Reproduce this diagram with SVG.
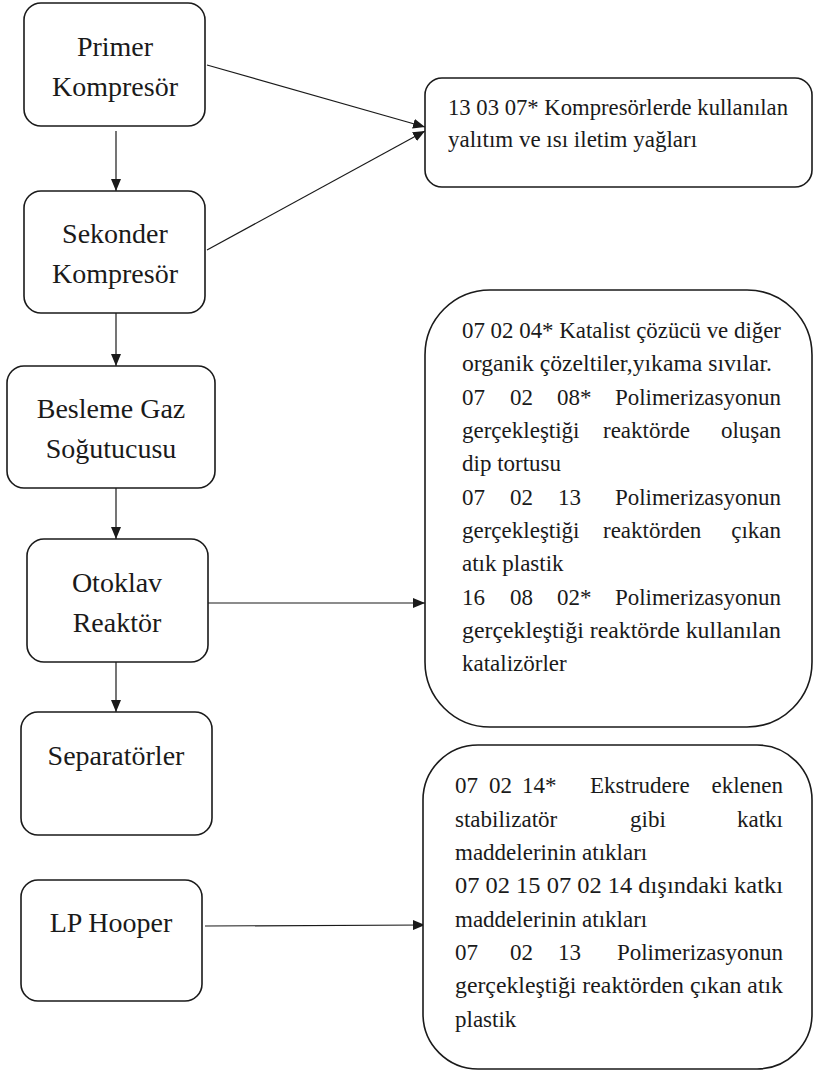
<svg xmlns="http://www.w3.org/2000/svg" width="814" height="1071" viewBox="0 0 814 1071">
  <style>
    .box { fill: #ffffff; stroke: #1a1a1a; stroke-width: 1.6; }
    .conn { stroke: #1a1a1a; stroke-width: 1.2; fill: none; marker-end: url(#arrow); }
    .lbl { font-family: "Liberation Serif", "Times New Roman", serif; font-size: 28px; fill: #1a1a1a; text-anchor: middle; }
    .note { font-family: "Liberation Serif", "Times New Roman", serif; font-size: 23px; fill: #1a1a1a; }
    .end { text-anchor: end; }
  </style>
  <defs>
    <marker id="arrow" markerUnits="userSpaceOnUse" markerWidth="12" markerHeight="10" refX="12" refY="5" orient="auto">
      <path d="M0,0 L12,5 L0,10 Z" fill="#1a1a1a"/>
    </marker>
  </defs>
  <rect width="814" height="1071" fill="#ffffff"/>

  <!-- connectors -->
  <g id="connectors">
    <line class="conn" x1="116" y1="131" x2="116" y2="191"/>
    <line class="conn" x1="116" y1="313" x2="116" y2="366"/>
    <line class="conn" x1="116" y1="488" x2="116" y2="539"/>
    <line class="conn" x1="116" y1="662" x2="116" y2="712"/>
    <line class="conn" x1="207" y1="65" x2="425" y2="127"/>
    <line class="conn" x1="207" y1="250" x2="425" y2="131"/>
    <line class="conn" x1="208" y1="603" x2="425" y2="603"/>
    <line class="conn" x1="205" y1="926" x2="425" y2="925"/>
  </g>

  <!-- process steps -->
  <g id="primer">
    <rect class="box" x="24" y="3" width="181" height="123" rx="17"/>
    <text class="lbl" x="115" y="56">Primer</text>
    <text class="lbl" x="115" y="96">Kompresör</text>
  </g>
  <g id="sekonder">
    <rect class="box" x="24" y="191" width="181" height="122" rx="17"/>
    <text class="lbl" x="115" y="243">Sekonder</text>
    <text class="lbl" x="115" y="283">Kompresör</text>
  </g>
  <g id="besleme">
    <rect class="box" x="7" y="366" width="208" height="122" rx="17"/>
    <text class="lbl" x="111" y="418">Besleme Gaz</text>
    <text class="lbl" x="111" y="458">Soğutucusu</text>
  </g>
  <g id="otoklav">
    <rect class="box" x="27" y="539" width="181" height="123" rx="17"/>
    <text class="lbl" x="117" y="592">Otoklav</text>
    <text class="lbl" x="117" y="632">Reaktör</text>
  </g>
  <g id="separatorler">
    <rect class="box" x="21" y="712" width="191" height="123" rx="17"/>
    <text class="lbl" x="116" y="765">Separatörler</text>
  </g>
  <g id="lp-hooper">
    <rect class="box" x="21" y="880" width="181" height="121" rx="17"/>
    <text class="lbl" x="111" y="932">LP Hooper</text>
  </g>

  <!-- waste code boxes -->
  <g id="atik-kompresor">
    <rect class="box" x="425" y="78" width="387" height="109" rx="17"/>
    <text class="note" x="448" y="115" textLength="340" lengthAdjust="spacingAndGlyphs">13 03 07* Kompresörlerde kullanılan</text>
    <text class="note" x="448" y="147">yalıtım ve ısı iletim yağları</text>
  </g>

  <g id="atik-reaktor">
    <rect class="box" x="425" y="290" width="387" height="437" rx="65"/>
    <text class="note" x="462" y="338" textLength="319" lengthAdjust="spacingAndGlyphs">07 02 04* Katalist çözücü ve diğer</text>
    <text class="note" x="462" y="371" textLength="310" lengthAdjust="spacingAndGlyphs">organik çözeltiler,yıkama sıvılar.</text>
    <text class="note" x="462" y="405">07</text>
    <text class="note" x="510" y="405">02</text>
    <text class="note" x="557" y="405">08*</text>
    <text class="note end" x="781" y="405">Polimerizasyonun</text>
    <text class="note" x="462" y="438">gerçekleştiği</text>
    <text class="note" x="603" y="438">reaktörde</text>
    <text class="note end" x="781" y="438">oluşan</text>
    <text class="note" x="462" y="471">dip tortusu</text>
    <text class="note" x="462" y="505">07</text>
    <text class="note" x="510" y="505">02</text>
    <text class="note" x="558" y="505">13</text>
    <text class="note end" x="781" y="505">Polimerizasyonun</text>
    <text class="note" x="462" y="538">gerçekleştiği</text>
    <text class="note" x="603" y="538">reaktörden</text>
    <text class="note end" x="781" y="538">çıkan</text>
    <text class="note" x="462" y="571">atık plastik</text>
    <text class="note" x="462" y="605">16</text>
    <text class="note" x="510" y="605">08</text>
    <text class="note" x="557" y="605">02*</text>
    <text class="note end" x="781" y="605">Polimerizasyonun</text>
    <text class="note" x="462" y="638" textLength="319" lengthAdjust="spacingAndGlyphs">gerçekleştiği reaktörde kullanılan</text>
    <text class="note" x="462" y="671">katalizörler</text>
  </g>

  <g id="atik-hooper">
    <rect class="box" x="423" y="745" width="389" height="324" rx="55"/>
    <text class="note" x="455" y="793">07</text>
    <text class="note" x="489" y="793">02</text>
    <text class="note" x="522" y="793">14*</text>
    <text class="note" x="590" y="793">Ekstrudere</text>
    <text class="note end" x="783" y="793">eklenen</text>
    <text class="note" x="455" y="827">stabilizatör</text>
    <text class="note" x="630" y="827">gibi</text>
    <text class="note end" x="783" y="827">katkı</text>
    <text class="note" x="455" y="860">maddelerinin atıkları</text>
    <text class="note" x="455" y="893" textLength="328" lengthAdjust="spacingAndGlyphs">07 02 15 07 02 14 dışındaki katkı</text>
    <text class="note" x="455" y="927">maddelerinin atıkları</text>
    <text class="note" x="455" y="960">07</text>
    <text class="note" x="510" y="960">02</text>
    <text class="note" x="558" y="960">13</text>
    <text class="note end" x="783" y="960">Polimerizasyonun</text>
    <text class="note" x="455" y="993" textLength="328" lengthAdjust="spacingAndGlyphs">gerçekleştiği reaktörden çıkan atık</text>
    <text class="note" x="455" y="1027">plastik</text>
  </g>
</svg>
